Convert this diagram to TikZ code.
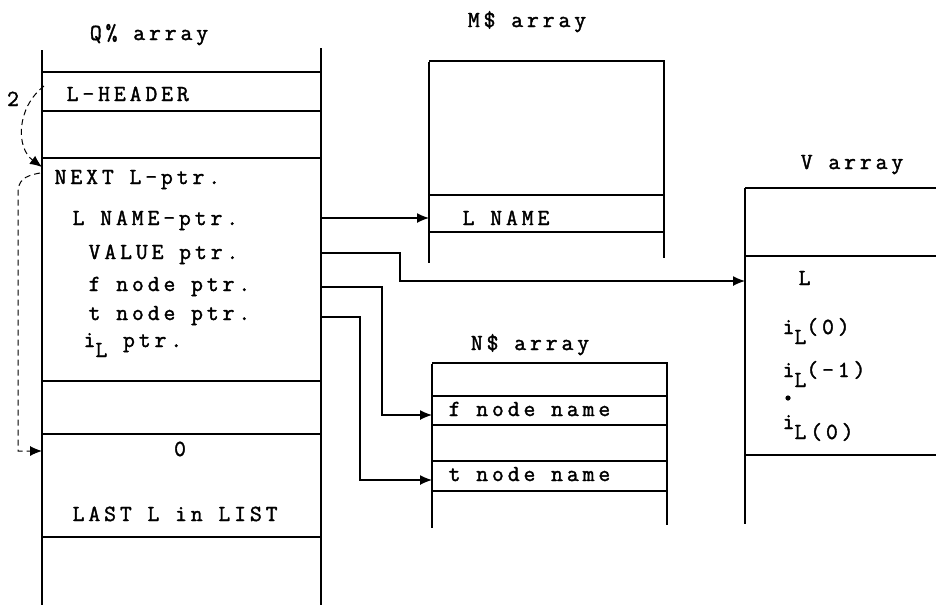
\documentclass[tikz,border=0pt]{standalone}
\usepackage{fontspec}
\setmonofont{Latin Modern Mono}[LetterSpace=17, FakeBold=1.6]
\usepackage{tikz}
\usetikzlibrary{arrows.meta}

\newcommand{\bajo}[1]{\raisebox{-10pt}{#1}}

\begin{document}
\begin{tikzpicture}[x=1pt, y=-1pt, line width=1.3pt, >={Latex[length=12pt,width=10pt]},
    txt/.style={font=\ttfamily\fontsize{23}{26}\selectfont, inner sep=0pt, anchor=base west},
    ttl/.style={txt, anchor=base},
    enlace/.style={->, line width=1pt, dash pattern=on 6pt off 4pt}]
    \useasboundingbox (0,0) rectangle (936,614);

    % Arreglo Q%
    \node[ttl] (qtit) at (149,40) {Q\% array};
    \draw (42,50) -- (42,605);
    \draw (321,48) -- (321,605);
    \foreach \y in {72,111,158,381,434,537} \draw (42,\y) -- (321,\y);
    \node[txt] (lhead) at (66,101) {L-HEADER};
    \node[txt] (next) at (54,184) {NEXT L-ptr.};
    \node[txt] (lnptr) at (72,225) {L NAME-ptr.};
    \node[txt] (valptr) at (88,259) {VALUE ptr.};
    \node[txt] (fptr) at (88,291) {f node ptr.};
    \node[txt] (tptr) at (88,320) {t node ptr.};
    \node[txt] (iptr) at (83,347) {i\bajo{L} ptr.};
    \node[txt, anchor=base] (cero) at (180,456) {0};
    \node[txt] (last) at (72,521) {LAST L in LIST};
    \node[txt, anchor=base] (dos) at (13,106) {2};

    % Arreglo M$
    \node[ttl] (mtit) at (527,27) {M\$ array};
    \draw (429,62) -- (429,263);
    \draw (664,60) -- (664,258);
    \foreach \y in {61,195,232} \draw (429,\y) -- (664,\y);
    \node[txt] (lname) at (462,225) {L NAME};

    % Arreglo N$
    \node[ttl] (ntit) at (530,350) {N\$ array};
    \draw (432,364) -- (432,528);
    \draw (667,362) -- (667,525);
    \foreach \y in {363,396,425,461,491} \draw (432,\y) -- (667,\y);
    \node[txt] (fname) at (448,416) {f node name};
    \node[txt] (tname) at (448,481) {t node name};

    % Arreglo V
    \node[ttl] (vtit) at (852,169) {V array};
    \draw (745,188) -- (745,524);
    \foreach \y in {188,256,455} \draw (745,\y) -- (936,\y);
    \node[txt] (vl) at (798,285) {L};
    \node[txt] (vi0) at (782,334) {i\bajo{L}(0)};
    \node[txt] (vi1) at (782,377) {i\bajo{L}(-1)};
    \fill (788,398) circle (2.6pt);
    \node[txt] (vi2) at (782,429) {i\bajo{L(0)}};

    % Puntos de los punteros
    \coordinate (qa) at (321,218);
    \coordinate (qb) at (321,253);
    \coordinate (qc) at (321,287);
    \coordinate (qd) at (321,317);
    \coordinate (ma) at (429,218);
    \coordinate (va) at (745,281);
    \coordinate (na) at (432,415);
    \coordinate (nb) at (432,480);

    % Punteros
    \draw[->] (qa) -- (ma);
    \draw[->] (qb) -- (400,253) -- (400,281) -- (va);
    \draw[->] (qc) -- (382,287) -- (382,415) -- (na);
    \draw[->] (qd) -- (360,317) -- (360,480) -- (nb);

    % Enlaces de la lista
    \coordinate (hd) at (44,86);
    \coordinate (nx) at (42,167);
    \coordinate (nx2) at (40,173);
    \coordinate (fin) at (42,451);
    \draw[enlace] (hd) .. controls (16,108) and (16,148) .. (nx);
    \draw[enlace] (nx2) .. controls (24,176) and (18,180) .. (18,194) -- (18,451) -- (fin);
\end{tikzpicture}
\end{document}
